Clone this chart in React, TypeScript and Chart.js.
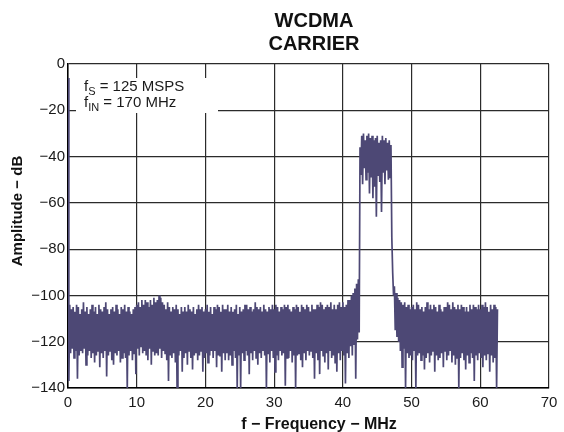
import React, { useEffect, useRef } from "react";
import { Chart, registerables } from "chart.js";

Chart.register(...registerables);

const TITLE_LINES = ["WCDMA", "CARRIER"];
const X_AXIS_LABEL = "f \u2212 Frequency \u2212 MHz";
const Y_AXIS_LABEL = "Amplitude \u2212 dB";
const NOTE_LINES = [
  { main: "f", sub: "S", rest: " = 125 MSPS" },
  { main: "f", sub: "IN", rest: " = 170 MHz" },
];

const X_MIN = 0;
const X_MAX = 70;
const X_TICK_STEP = 10;
const Y_MIN = -140;
const Y_MAX = 0;
const Y_TICK_STEP = 20;

// FFT trace. Peaks sit at 0, 0.25, 0.5 ... MHz,
// dips sit halfway between them (0.125, 0.375 ... MHz). Values in dB.
const BIN_STEP_MHZ = 0.25;
const PEAK_DB = [
  -6, -104, -106, -105,
  -107, -104, -105, -108,
  -106, -103, -107, -105,
  -108, -106, -104, -107,
  -105, -108, -104, -106,
  -107, -105, -103, -106,
  -108, -106, -105, -107,
  -104, -106, -108, -105,
  -106, -104, -107, -105,
  -107, -108, -106, -105,
  -104, -103, -105, -102,
  -104, -102, -103, -105,
  -102, -104, -101, -103,
  -102, -100, -101, -103,
  -104, -106, -103, -105,
  -107, -105, -106, -104,
  -106, -108, -105, -107,
  -105, -107, -104, -106,
  -107, -105, -108, -106,
  -104, -106, -105, -107,
  -106, -104, -107, -105,
  -108, -105, -106, -104,
  -105, -107, -104, -106,
  -106, -104, -107, -105,
  -107, -106, -104, -108,
  -105, -107, -106, -104,
  -104, -106, -105, -107,
  -106, -103, -105, -106,
  -105, -107, -104, -106,
  -107, -105, -106, -104,
  -106, -104, -105, -107,
  -105, -106, -104, -105,
  -104, -106, -107, -105,
  -106, -104, -105, -107,
  -104, -105, -106, -104,
  -105, -107, -104, -106,
  -106, -104, -105, -103,
  -104, -106, -105, -104,
  -105, -103, -106, -104,
  -106, -104, -103, -105,
  -103, -105, -104, -102,
  -102, -100, -99, -97,
  -95, -93, -36, -31,
  -30, -33, -31, -30,
  -32, -31, -33, -32,
  -31, -34, -33, -31,
  -33, -32, -34, -33,
  -35, -90, -96, -99,
  -101, -102, -103, -104,
  -103, -105, -104, -106,
  -105, -104, -106, -103,
  -104, -106, -105, -107,
  -105, -103, -106, -104,
  -106, -104, -105, -107,
  -104, -106, -107, -105,
  -105, -103, -104, -106,
  -103, -105, -106, -104,
  -106, -104, -105, -107,
  -105, -107, -104, -106,
  -104, -105, -106, -104,
  -106, -104, -105, -103,
  -105, -107, -104, -106,
  -104, -105, -106,
];
const DIP_DB = [
  -137, -125, -123, -127,
  -124, -136, -126, -124,
  -125, -123, -130, -126,
  -124, -127, -125, -129,
  -126, -124, -131, -125,
  -127, -124, -135, -126,
  -124, -128, -130, -125,
  -126, -124, -129, -127,
  -125, -127, -140, -126,
  -124, -128, -125, -134,
  -123, -126, -122, -125,
  -124, -126, -128, -123,
  -130, -124, -126, -125,
  -126, -123, -127, -124,
  -125, -128, -137, -126,
  -127, -125, -129, -140,
  -126, -124, -133, -127,
  -125, -130, -124, -127,
  -132, -126, -125, -128,
  -126, -124, -133, -127,
  -125, -129, -126, -124,
  -127, -124, -131, -126,
  -126, -133, -125, -128,
  -125, -128, -126, -130,
  -124, -127, -140, -126,
  -140, -125, -128, -124,
  -126, -134, -125, -128,
  -124, -127, -130, -125,
  -127, -124, -126, -140,
  -125, -129, -124, -127,
  -133, -126, -128, -124,
  -126, -125, -139, -127,
  -127, -124, -129, -126,
  -140, -126, -125, -128,
  -131, -125, -128, -124,
  -126, -124, -127, -136,
  -125, -128, -134, -124,
  -126, -129, -125, -132,
  -124, -127, -126, -129,
  -133, -125, -128, -124,
  -126, -138, -125, -127,
  -122, -126, -121, -136,
  -119, -116, -48, -52,
  -45, -50, -47, -56,
  -49, -58, -53, -66,
  -48, -51, -64, -47,
  -52, -46, -50, -49,
  -75, -100, -115, -118,
  -120, -124, -131, -123,
  -140, -125, -127, -126,
  -128, -124, -140, -126,
  -125, -128, -126, -132,
  -127, -125, -129, -126,
  -124, -133, -126, -128,
  -127, -125, -131, -124,
  -128, -126, -124, -129,
  -126, -130, -127, -140,
  -127, -125, -128, -132,
  -126, -129, -125, -127,
  -137, -126, -128, -125,
  -127, -131, -126, -128,
  -125, -133, -126, -129,
  -127, -140,
];

const LINE_COLOR = "#4d4875";
const GRID_COLOR = "#2b2b2b";
const FONT = "'Liberation Sans', Arial, Helvetica, sans-serif";

const minus = (v: number) => (v < 0 ? "\u2212" + Math.abs(v) : String(v));

const textPlugin = {
  id: "textPlugin",
  beforeDatasetsDraw(chart: any) {
    const ctx = chart.ctx as CanvasRenderingContext2D;
    const a = chart.chartArea;
    ctx.save();
    ctx.fillStyle = "#ffffff";
    ctx.fillRect(a.left + 8, a.top + 14, 142, 35);
    ctx.fillStyle = "#1a1a1a";
    ctx.textBaseline = "alphabetic";
    ctx.textAlign = "left";
    NOTE_LINES.forEach((ln, i) => {
      const base = a.top + 27 + i * 16;
      let x = a.left + 16;
      ctx.font = `15px ${FONT}`;
      ctx.fillText(ln.main, x, base);
      x += ctx.measureText(ln.main).width;
      ctx.font = `11px ${FONT}`;
      ctx.fillText(ln.sub, x, base + 4);
      x += ctx.measureText(ln.sub).width;
      ctx.font = `15px ${FONT}`;
      ctx.fillText(ln.rest, x, base);
    });
    ctx.restore();
  },
  afterDraw(chart: any) {
    const ctx = chart.ctx as CanvasRenderingContext2D;
    ctx.save();
    ctx.fillStyle = "#111111";
    ctx.textAlign = "center";
    ctx.textBaseline = "alphabetic";
    ctx.font = `bold 20px ${FONT}`;
    TITLE_LINES.forEach((t, i) => ctx.fillText(t, 314, 27 + i * 23));
    ctx.font = `bold 16px ${FONT}`;
    ctx.fillText(X_AXIS_LABEL, 319, 429);
    ctx.translate(22, 211);
    ctx.rotate(-Math.PI / 2);
    ctx.font = `bold 15px ${FONT}`;
    ctx.fillText(Y_AXIS_LABEL, 0, 0);
    ctx.restore();
  },
};

export default function App() {
  const ref = useRef<HTMLCanvasElement | null>(null);
  useEffect(() => {
    if (!ref.current) return;
    const points: { x: number; y: number }[] = [];
    PEAK_DB.forEach((p, i) => {
      points.push({ x: i * BIN_STEP_MHZ, y: p });
      if (i < DIP_DB.length) points.push({ x: i * BIN_STEP_MHZ + BIN_STEP_MHZ / 2, y: DIP_DB[i] });
    });
    const chart = new Chart(ref.current, {
      type: "line",
      data: {
        datasets: [
          {
            data: points,
            borderColor: LINE_COLOR,
            borderWidth: 1.7,
            pointRadius: 0,
            tension: 0,
            fill: false,
          },
        ],
      },
      options: {
        animation: false,
        responsive: false,
        devicePixelRatio: 1,
        layout: { padding: { top: 64, right: 15, left: 0, bottom: 0 } },
        plugins: { legend: { display: false }, tooltip: { enabled: false }, title: { display: false } },
        scales: {
          x: {
            type: "linear",
            min: X_MIN,
            max: X_MAX,
            afterFit: (s: any) => {
              s.height = 44;
            },
            ticks: {
              stepSize: X_TICK_STEP,
              color: "#1a1a1a",
              font: { family: FONT, size: 15 },
              padding: 6,
              maxRotation: 0,
              callback: (v: any) => minus(Number(v)),
            },
            grid: { color: GRID_COLOR, lineWidth: 1.2, drawTicks: false },
            border: { display: true, color: "#000", width: 1.5 },
          },
          y: {
            type: "linear",
            min: Y_MIN,
            max: Y_MAX,
            afterFit: (s: any) => {
              s.width = 68;
            },
            ticks: {
              stepSize: Y_TICK_STEP,
              color: "#1a1a1a",
              font: { family: FONT, size: 15 },
              padding: 3,
              callback: (v: any) => minus(Number(v)),
            },
            grid: { color: GRID_COLOR, lineWidth: 1.2, drawTicks: false },
            border: { display: true, color: "#000", width: 1.5 },
          },
        },
      },
      plugins: [textPlugin],
    });
    return () => chart.destroy();
  }, []);
  return (
    <div style={{ position: "absolute", left: 0, top: 0, width: 564, height: 432, background: "#fff" }}>
      <canvas ref={ref} width={564} height={432} />
    </div>
  );
}
